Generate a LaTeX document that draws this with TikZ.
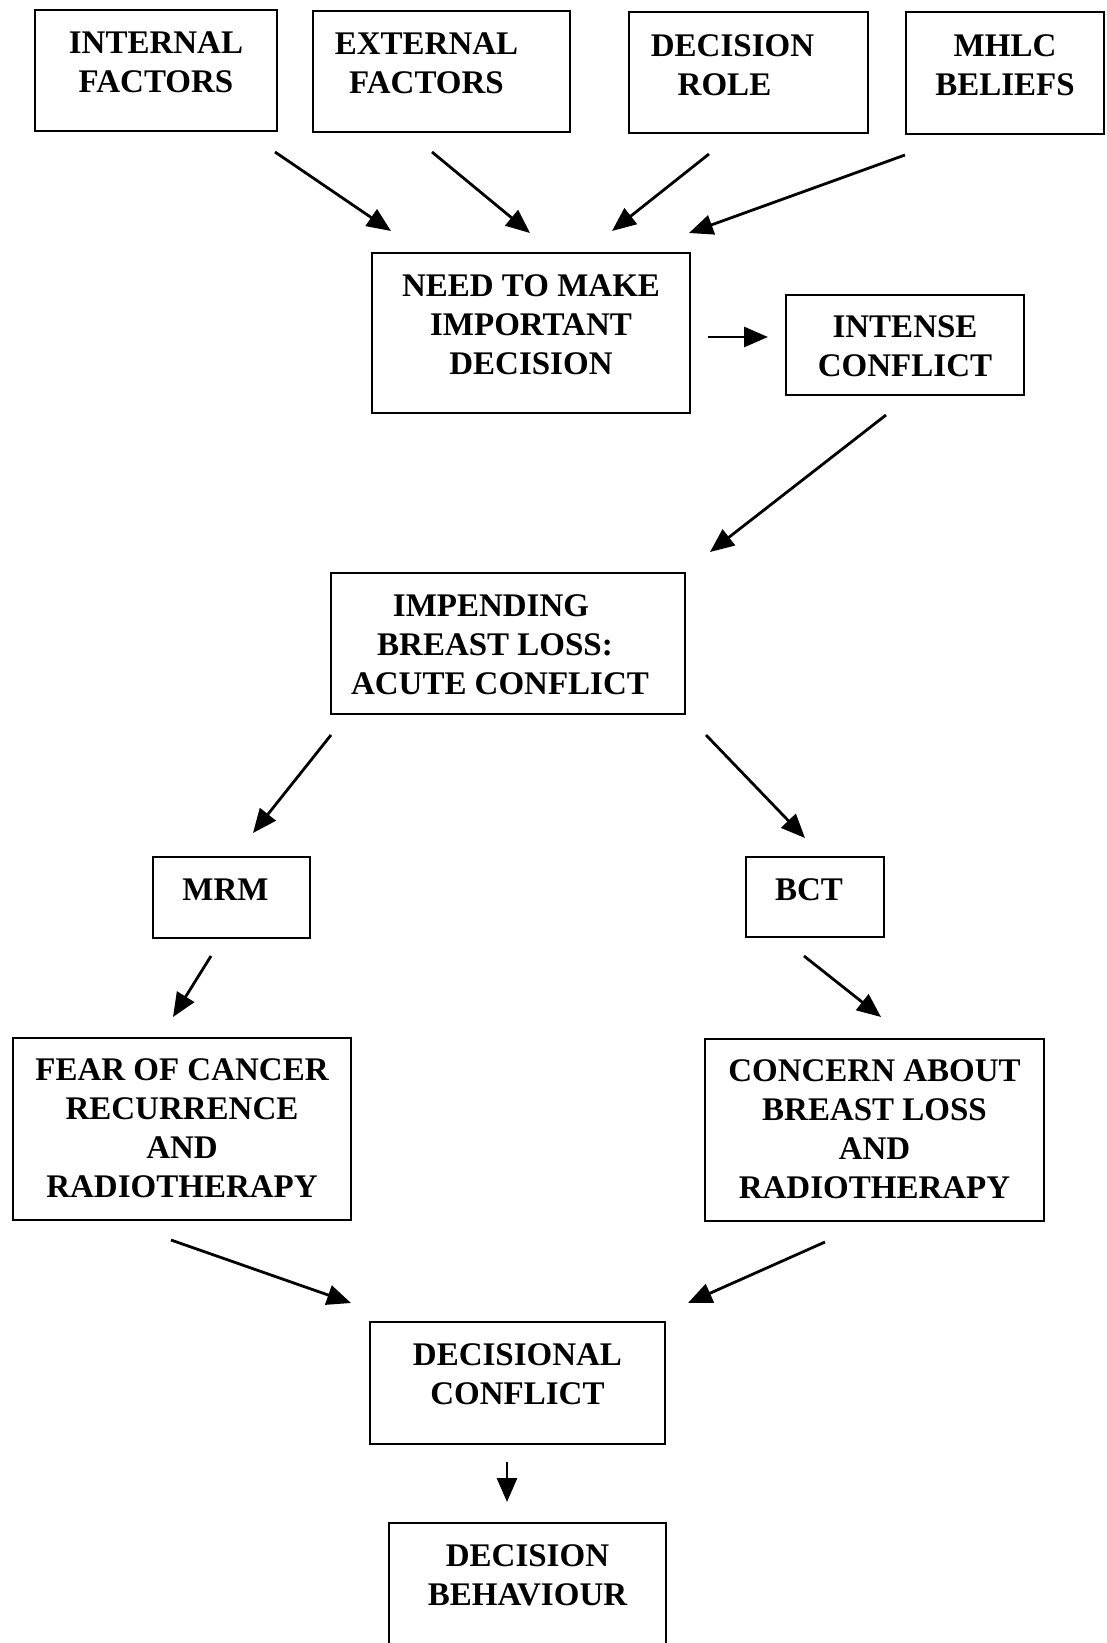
\documentclass[tikz,border=0pt]{standalone}
\usepackage{fontspec}
\setmainfont{Liberation Serif}
\usepackage{tikz}
\usetikzlibrary{arrows.meta}
% box text: width, height, top gap, lines
\newcommand{\boxtxt}[4]{\parbox[c][#2][t]{#1}{\centering\vspace*{#3}#4}}

\begin{document}
\begin{tikzpicture}[x=0.5pt,y=-0.5pt,
  box/.style={draw,line width=1.3pt,inner sep=0pt,font=\bfseries\fontsize{16.5}{19.5}\selectfont},
  arr/.style={-{Triangle[length=12pt,width=10pt]},line width=1.4pt}]
  \useasboundingbox (0,0) rectangle (1107,1643);
  \clip (0,0) rectangle (1107,1643);

  \node[box] (int) at (156,70.5) {\boxtxt{121pt}{60.5pt}{11pt}{INTERNAL\\FACTORS}};
  \node[box] (ext) at (441.5,71.5) {\boxtxt{128.5pt}{60.5pt}{11pt}{EXTERNAL\kern15pt\\FACTORS\kern15pt}};
  \node[box] (role) at (748.5,72.5) {\boxtxt{119.5pt}{60.5pt}{11.5pt}{DECISION\kern16pt\\ROLE\kern24pt}};
  \node[box] (mhlc) at (1005,73) {\boxtxt{99pt}{61pt}{11.5pt}{MHLC\\BELIEFS}};
  \node[box] (need) at (531,333) {\boxtxt{159pt}{80pt}{11pt}{NEED TO MAKE\\IMPORTANT\\DECISION}};
  \node[box] (intense) at (905,345) {\boxtxt{119pt}{50pt}{10.5pt}{INTENSE\\CONFLICT}};
  \node[box] (impend) at (508,643.5) {\boxtxt{177pt}{70.5pt}{11pt}{IMPENDING\kern17pt\\BREAST LOSS:\kern13pt\\ACUTE CONFLICT\kern8pt}};
  \node[box] (mrm) at (231.5,897.5) {\boxtxt{78.5pt}{40.5pt}{11pt}{MRM\kern6pt}};
  \node[box] (bct) at (815,897) {\boxtxt{69pt}{40pt}{11pt}{BCT\kern6pt}};
  \node[box] (fear) at (182,1129) {\boxtxt{169pt}{91pt}{10.5pt}{FEAR OF CANCER\\RECURRENCE\\AND\\RADIOTHERAPY}};
  \node[box] (concern) at (874.5,1130) {\boxtxt{169.5pt}{91pt}{10.5pt}{CONCERN ABOUT\\BREAST LOSS\\AND\\RADIOTHERAPY}};
  \node[box] (dconf) at (517.5,1383) {\boxtxt{147.5pt}{61pt}{11pt}{DECISIONAL\\CONFLICT}};
  \node[box] (behav) at (527.5,1611.5) {\boxtxt{138.5pt}{88.5pt}{11pt}{DECISION\\BEHAVIOUR}};

  % arrow ends (arrows stand free of the boxes)
  \coordinate (int-s) at (275,152);      \coordinate (int-e) at (391,231);
  \coordinate (ext-s) at (432,152);      \coordinate (ext-e) at (530,233);
  \coordinate (role-s) at (709,154);     \coordinate (role-e) at (612,231);
  \coordinate (mhlc-s) at (905,155);     \coordinate (mhlc-e) at (689,233);
  \coordinate (need-s) at (708,337);     \coordinate (need-e) at (768,337);
  \coordinate (intense-s) at (886,415);  \coordinate (intense-e) at (710,552);
  \coordinate (mrm-s) at (331,735);      \coordinate (mrm-e) at (253,833);
  \coordinate (bct-s) at (706,735);      \coordinate (bct-e) at (805,838);
  \coordinate (fear-s) at (211,956);     \coordinate (fear-e) at (173,1017);
  \coordinate (concern-s) at (804,956);  \coordinate (concern-e) at (881,1017);
  \coordinate (dl-s) at (171,1240);      \coordinate (dl-e) at (351,1303);
  \coordinate (dr-s) at (825,1242);      \coordinate (dr-e) at (688,1303);
  \coordinate (behav-s) at (507,1462);   \coordinate (behav-e) at (507,1502);

  \draw[arr] (int-s) -- (int-e);
  \draw[arr] (ext-s) -- (ext-e);
  \draw[arr] (role-s) -- (role-e);
  \draw[arr] (mhlc-s) -- (mhlc-e);
  \draw[arr] (need-s) -- (need-e);
  \draw[arr] (intense-s) -- (intense-e);
  \draw[arr] (mrm-s) -- (mrm-e);
  \draw[arr] (bct-s) -- (bct-e);
  \draw[arr] (fear-s) -- (fear-e);
  \draw[arr] (concern-s) -- (concern-e);
  \draw[arr] (dl-s) -- (dl-e);
  \draw[arr] (dr-s) -- (dr-e);
  \draw[arr] (behav-s) -- (behav-e);
\end{tikzpicture}
\end{document}
